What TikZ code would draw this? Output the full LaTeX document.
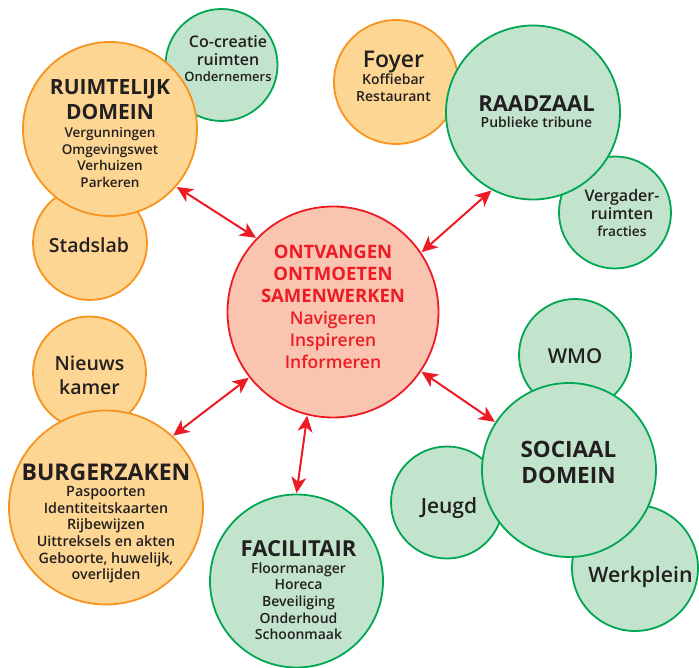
\documentclass[tikz,border=0pt]{standalone}
\usepackage{fontspec}
\setmainfont{Open Sans}
\newfontfamily\semib{Open Sans Semibold}
\usetikzlibrary{arrows.meta}

\definecolor{oranjevul}{HTML}{FED693}
\definecolor{oranjerand}{HTML}{F7931E}
\definecolor{groenvul}{HTML}{C2E4CC}
\definecolor{groenrand}{HTML}{00A651}
\definecolor{roodvul}{HTML}{FAC5B0}
\definecolor{roodrand}{HTML}{ED1C24}
\definecolor{tekst}{HTML}{231F20}

% lettertypes
\newcommand\kopf[1]{\rmfamily\bfseries\fontsize{#1}{#1}\selectfont}
\newcommand\semf[1]{\semib\fontsize{#1}{#1}\selectfont}
\newcommand\regels[3]{#1\fontsize{#2}{#3}\selectfont\lineskiplimit=-50pt}

\begin{document}
\begin{tikzpicture}[x=1pt, y=-1pt,
  bol/.style={circle, draw, line width=1.8pt, inner sep=0pt},
  oranje/.style={bol, fill=oranjevul, draw=oranjerand},
  groen/.style={bol, fill=groenvul, draw=groenrand},
  txt/.style={align=center, text=tekst, inner sep=0pt},
  pijl/.style={{Stealth[length=16pt,width=15pt,inset=4.5pt]}-{Stealth[length=16pt,width=15pt,inset=4.5pt]}, draw=roodrand, line width=2pt, shorten <=0.5pt, shorten >=0.5pt}]
\useasboundingbox (0,0) rectangle (699,668);

% Ruimtelijk domein
\node[groen, minimum size=112] (cocr) at (221.5,65) {};
\node[oranje, minimum size=114] (stad) at (90,243) {};
\node[oranje, minimum size=174] (ruim) at (110,129) {};
\node[txt, font=\regels{\semib}{13}{16}] (cocrtxt) at (228,59) {{\semf{16}Co-creatie}\\[2pt]{\semf{16}ruimten}\\Ondernemers};
\node[txt, font=\semf{19.5}] (stadtxt) at (89,245.6) {Stadslab};
\node[txt, font=\regels{\semib}{13.5}{16.5}] (ruimtxt) at (110,133.5) {{\kopf{21}RUIMTELIJK}\\[8.5pt]{\kopf{21}DOMEIN}\\[1.5pt]Vergunningen\\Omgevingswet\\Verhuizen\\Parkeren};

% Raadzaal
\node[oranje, minimum size=124] (foyer) at (396,82) {};
\node[groen, minimum size=112] (verg) at (615,212.5) {};
\node[groen, minimum size=174] (raad) at (533,112.5) {};
\node[txt, font=\regels{\semib}{14}{17}] (foyertxt) at (393.5,76.6) {{\semf{23}Foyer}\\Koffiebar\\Restaurant};
\node[txt, font=\regels{\semib}{13.7}{17}] (vergtxt) at (622,213.4) {{\semf{16}Vergader-}\\[1pt]{\semf{16}ruimten}\\fracties};
\node[txt, font=\regels{\semib}{14}{16}] (raadtxt) at (536.5,111.2) {{\kopf{22}RAADZAAL}\\Publieke tribune};

% Burgerzaken
\node[oranje, minimum size=113] (nieuws) at (89.5,373) {};
\node[oranje, minimum size=194] (burg) at (106,507.5) {};
\node[txt, font=\regels{\semib}{19.5}{23.3}] (nieuwstxt) at (89.5,375.3) {Nieuws\\kamer};
\node[txt, font=\regels{\semib}{14.3}{16.6}] (burgtxt) at (106,523.2) {{\kopf{23}BURGERZAKEN}\\Paspoorten\\Identiteitskaarten\\Rijbewijzen\\Uittreksels en akten\\Geboorte, huwelijk,\\overlijden};

% Facilitair
\node[groen, minimum size=173] (facil) at (296.5,581) {};
\node[txt, font=\regels{\semib}{14}{16.6}] (faciltxt) at (298.5,590.3) {{\kopf{22}FACILITAIR}\\Floormanager\\Horeca\\Beveiliging\\Onderhoud\\Schoonmaak};

% Sociaal domein
\node[groen, minimum size=112] (wmo) at (575,355) {};
\node[groen, minimum size=112] (jeugd) at (447,502.5) {};
\node[groen, minimum size=126] (werk) at (635,568) {};
\node[groen, minimum size=174] (soc) at (569,470) {};
\node[txt, font=\semf{20.5}] (wmotxt) at (575,356) {WMO};
\node[txt, font=\semf{21}] (jeugdtxt) at (449,507.8) {Jeugd};
\node[txt, font=\semf{21.3}] (werktxt) at (640.5,577.1) {Werkplein};
\node[txt, font=\regels{\bfseries}{22.5}{26}] (soctxt) at (568.5,462.3) {SOCIAAL\\DOMEIN};

% Midden
\node[bol, fill=roodvul, draw=roodrand, minimum size=211] (ctr) at (333,312) {};
\node[txt, text=roodrand, font=\regels{\semib}{17.5}{22}] (ctrtxt) at (333,306.7) {{\kopf{18.5}ONTVANGEN}\\{\kopf{18.5}ONTMOETEN}\\{\kopf{18.5}SAMENWERKEN}\\Navigeren\\Inspireren\\Informeren};

% Pijlen
\draw[pijl] (ruim.319) -- (ctr.136);
\draw[pijl] (raad.242) -- (ctr.34);
\draw[pijl] (burg.47.7) -- (ctr.218);
\draw[pijl] (facil.90) -- (ctr.256);
\draw[pijl] (soc.147.6) -- (ctr.326);
\end{tikzpicture}
\end{document}
